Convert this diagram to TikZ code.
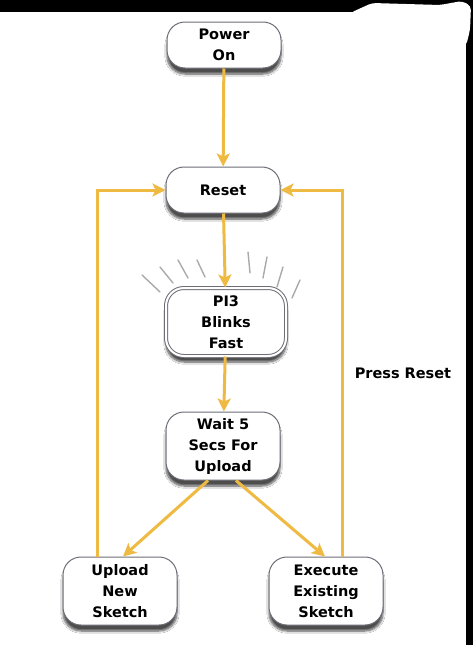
\documentclass[tikz,border=0pt]{standalone}
\usepackage{fontspec}
\setmainfont{DejaVu Sans}
\usepackage{tikz}
\usetikzlibrary{arrows.meta, shadows, shadows.blur}
\definecolor{mygold}{RGB}{238,186,66}
\definecolor{myedge}{RGB}{110,110,120}
\definecolor{myray}{RGB}{170,170,172}
\tikzset{
  state/.style={rectangle, draw=myedge, fill=white, line width=1pt,
    rounded corners=18pt, minimum width=114pt, align=center, inner sep=2pt,
    font=\bfseries\fontsize{14.5}{21}\selectfont,
    blur shadow={shadow xshift=0pt, shadow yshift=-6pt, shadow blur steps=8, shadow opacity=70}},
  blinkstate/.style={state, double=white, double distance=2pt, minimum width=120pt},
  arrow/.style={-{Stealth[length=13pt, width=13pt, inset=3pt]}, line width=3pt, color=mygold},
  ray/.style={line width=1.4pt, color=myray, line cap=round}
}
\begin{document}
\begin{tikzpicture}[x=1pt, y=-1pt]
  % frame
  \fill[black] (0,0) rectangle (473,645);
  \fill[white] (0,12) rectangle (466,645);
  \fill[white, rounded corners=4pt] (350,13) -- (372,3) -- (440,5) -- (462,1) -- (471,6) -- (470,30) -- (466,46) -- (440,46) -- cycle;
  \useasboundingbox (0,0) rectangle (473,645);
  % states
  \node[state, minimum height=46pt] (power) at (224,45) {Power\\On};
  \node[state, minimum height=46pt] (reset) at (223,190) {Reset};
  \node[blinkstate, minimum height=68pt] (blink) at (226,322) {PI3\\Blinks\\Fast};
  \node[state, minimum height=68pt] (wait) at (223,446) {Wait 5\\Secs For\\Upload};
  \node[state, minimum height=68pt] (upload) at (120,591) {Upload\\New\\Sketch};
  \node[state, minimum height=68pt] (execute) at (326,591) {Execute\\Existing\\Sketch};
  % blink rays
  \foreach \xa/\ya/\xb/\yb in {142/275/160/292, 160/267/173/283, 178/260/188/278, 197/260/205/277,
                              248/252/250/273, 267/257/263/278, 283/267/277/287, 300/280/292/298}
    \draw[ray] (\xa,\ya) -- (\xb,\yb);
  % flow
  \draw[arrow] (power) -- (reset);
  \draw[arrow] (reset) -- (blink);
  \draw[arrow] (blink) -- (wait);
  \draw[arrow] ([xshift=-15pt]wait.south) -- ([xshift=3pt]upload.north);
  \draw[arrow] ([xshift=13pt]wait.south) -- ([xshift=-1pt]execute.north);
  \draw[arrow] ([xshift=-23pt]upload.north) |- (reset.west);
  \draw[arrow] ([xshift=16pt]execute.north) |- (reset.east)
    node[pos=0.25, right=8pt, text=black, font=\bfseries\fontsize{14.5}{17}\selectfont] {Press Reset};
\end{tikzpicture}
\end{document}
